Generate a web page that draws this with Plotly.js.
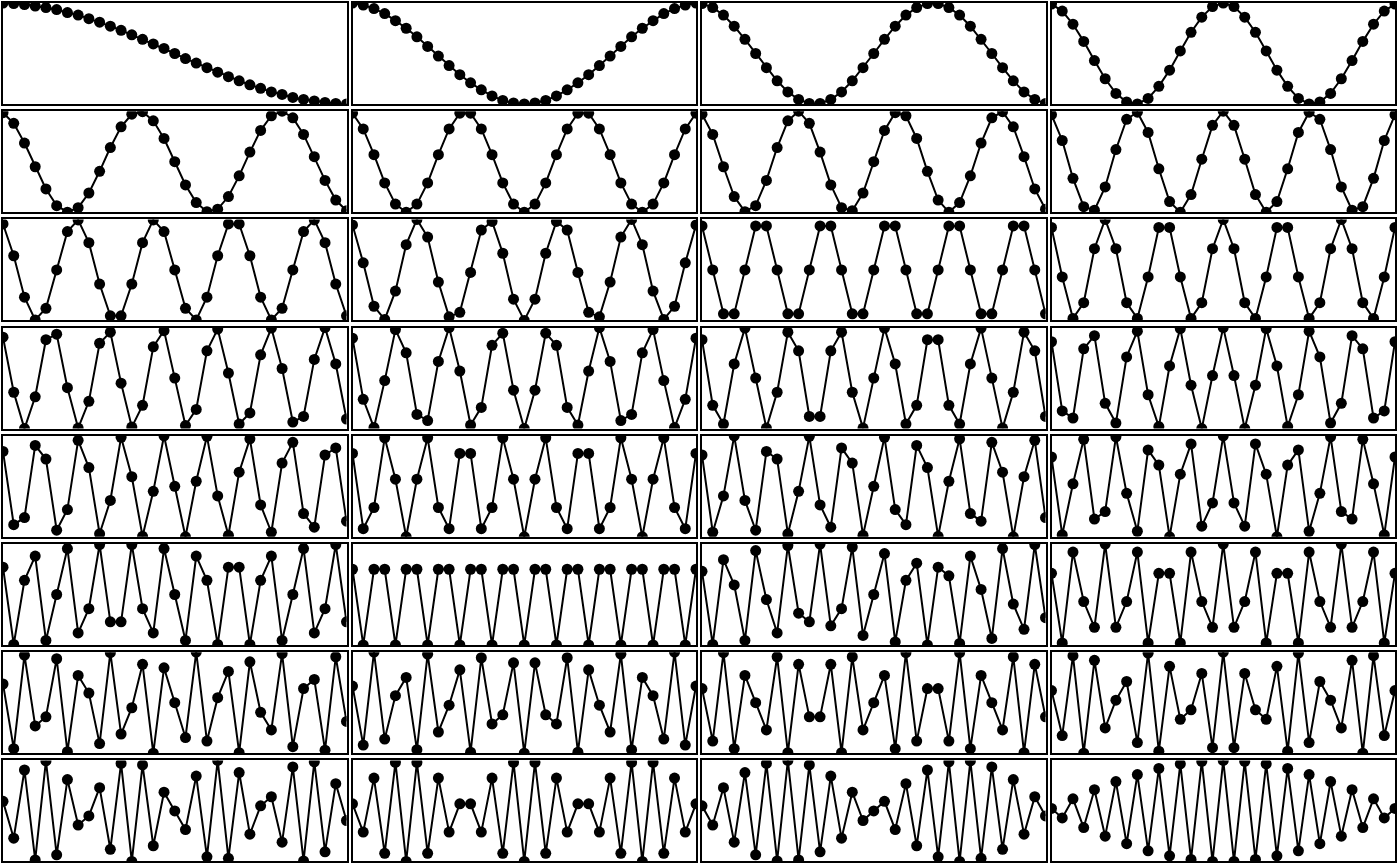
<!DOCTYPE html>
<html>
<head>
<meta charset="utf-8">
<script src="https://cdn.plot.ly/plotly-3.0.1.min.js"></script>
<style>html,body{margin:0;padding:0;background:#fff;}#chart{width:1400px;height:866px;}</style>
</head>
<body>
<div id="chart"></div>
<script>
const samples = [0,1,2,3,4,5,6,7,8,9,10,11,12,13,14,15,16,17,18,19,20,21,22,23,24,25,26,27,28,29,30,31,32];

const k01 = [1.00,0.99,0.97,0.94,0.91,0.87,0.81,0.76,0.69,0.62,0.54,0.46,0.37,0.28,0.19,0.10,0.00,-0.10,-0.19,-0.28,-0.37,-0.46,-0.54,-0.62,-0.69,-0.76,-0.81,-0.87,-0.91,-0.94,-0.97,-0.99,-1.00];
const k02 = [1.00,0.96,0.89,0.79,0.65,0.50,0.33,0.14,-0.05,-0.24,-0.42,-0.58,-0.72,-0.84,-0.93,-0.98,-1.00,-0.98,-0.93,-0.84,-0.72,-0.58,-0.42,-0.24,-0.05,0.14,0.33,0.50,0.65,0.79,0.89,0.96,1.00];
const k03 = [0.99,0.91,0.76,0.54,0.28,0.00,-0.28,-0.54,-0.76,-0.91,-0.99,-0.99,-0.91,-0.76,-0.54,-0.28,0.00,0.28,0.54,0.76,0.91,0.99,0.99,0.91,0.76,0.54,0.28,0.00,-0.28,-0.54,-0.76,-0.91,-0.99];
const k04 = [0.98,0.84,0.58,0.24,-0.14,-0.50,-0.79,-0.96,-1.00,-0.89,-0.65,-0.33,0.05,0.42,0.72,0.93,1.00,0.93,0.72,0.42,0.05,-0.33,-0.65,-0.89,-1.00,-0.96,-0.79,-0.50,-0.14,0.24,0.58,0.84,0.98];
const k05 = [0.97,0.76,0.37,-0.10,-0.54,-0.87,-1.00,-0.91,-0.62,-0.19,0.28,0.69,0.94,0.99,0.81,0.46,0.00,-0.46,-0.81,-0.99,-0.94,-0.69,-0.28,0.19,0.62,0.91,1.00,0.87,0.54,0.10,-0.37,-0.76,-0.97];
const k06 = [0.96,0.65,0.14,-0.42,-0.84,-1.00,-0.84,-0.42,0.14,0.65,0.96,0.96,0.65,0.14,-0.42,-0.84,-1.00,-0.84,-0.42,0.14,0.65,0.96,0.96,0.65,0.14,-0.42,-0.84,-1.00,-0.84,-0.42,0.14,0.65,0.96];
const k07 = [0.94,0.54,-0.10,-0.69,-0.99,-0.87,-0.37,0.28,0.81,1.00,0.76,0.19,-0.46,-0.91,-0.97,-0.62,0.00,0.62,0.97,0.91,0.46,-0.19,-0.76,-1.00,-0.81,-0.28,0.37,0.87,0.99,0.69,0.10,-0.54,-0.94];
const k08 = [0.93,0.42,-0.33,-0.89,-0.96,-0.50,0.24,0.84,0.98,0.58,-0.14,-0.79,-1.00,-0.65,0.05,0.72,1.00,0.72,0.05,-0.65,-1.00,-0.79,-0.14,0.58,0.98,0.84,0.24,-0.50,-0.96,-0.89,-0.33,0.42,0.93];
const k09 = [0.91,0.28,-0.54,-0.99,-0.76,0.00,0.76,0.99,0.54,-0.28,-0.91,-0.91,-0.28,0.54,0.99,0.76,0.00,-0.76,-0.99,-0.54,0.28,0.91,0.91,0.28,-0.54,-0.99,-0.76,0.00,0.76,0.99,0.54,-0.28,-0.91];
const k10 = [0.89,0.14,-0.72,-0.98,-0.42,0.50,1.00,0.65,-0.24,-0.93,-0.84,-0.05,0.79,0.96,0.33,-0.58,-1.00,-0.58,0.33,0.96,0.79,-0.05,-0.84,-0.93,-0.24,0.65,1.00,0.50,-0.42,-0.98,-0.72,0.14,0.89];
const k11 = [0.87,0.00,-0.87,-0.87,0.00,0.87,0.87,0.00,-0.87,-0.87,0.00,0.87,0.87,0.00,-0.87,-0.87,0.00,0.87,0.87,0.00,-0.87,-0.87,0.00,0.87,0.87,0.00,-0.87,-0.87,0.00,0.87,0.87,0.00,-0.87];
const k12 = [0.84,-0.14,-0.96,-0.65,0.42,1.00,0.42,-0.65,-0.96,-0.14,0.84,0.84,-0.14,-0.96,-0.65,0.42,1.00,0.42,-0.65,-0.96,-0.14,0.84,0.84,-0.14,-0.96,-0.65,0.42,1.00,0.42,-0.65,-0.96,-0.14,0.84];
const k13 = [0.81,-0.28,-1.00,-0.37,0.76,0.87,-0.19,-0.99,-0.46,0.69,0.91,-0.10,-0.97,-0.54,0.62,0.94,0.00,-0.94,-0.62,0.54,0.97,0.10,-0.91,-0.69,0.46,0.99,0.19,-0.87,-0.76,0.37,1.00,0.28,-0.81];
const k14 = [0.79,-0.42,-0.98,-0.05,0.96,0.50,-0.72,-0.84,0.33,1.00,0.14,-0.93,-0.58,0.65,0.89,-0.24,-1.00,-0.24,0.89,0.65,-0.58,-0.93,0.14,1.00,0.33,-0.84,-0.72,0.50,0.96,-0.05,-0.98,-0.42,0.79];
const k15 = [0.76,-0.54,-0.91,0.28,0.99,0.00,-0.99,-0.28,0.91,0.54,-0.76,-0.76,0.54,0.91,-0.28,-0.99,0.00,0.99,0.28,-0.91,-0.54,0.76,0.76,-0.54,-0.91,0.28,0.99,0.00,-0.99,-0.28,0.91,0.54,-0.76];
const k16 = [0.72,-0.65,-0.79,0.58,0.84,-0.50,-0.89,0.42,0.93,-0.33,-0.96,0.24,0.98,-0.14,-1.00,0.05,1.00,0.05,-1.00,-0.14,0.98,0.24,-0.96,-0.33,0.93,0.42,-0.89,-0.50,0.84,0.58,-0.79,-0.65,0.72];
const k17 = [0.69,-0.76,-0.62,0.81,0.54,-0.87,-0.46,0.91,0.37,-0.94,-0.28,0.97,0.19,-0.99,-0.10,1.00,0.00,-1.00,0.10,0.99,-0.19,-0.97,0.28,0.94,-0.37,-0.91,0.46,0.87,-0.54,-0.81,0.62,0.76,-0.69];
const k18 = [0.65,-0.84,-0.42,0.96,0.14,-1.00,0.14,0.96,-0.42,-0.84,0.65,0.65,-0.84,-0.42,0.96,0.14,-1.00,0.14,0.96,-0.42,-0.84,0.65,0.65,-0.84,-0.42,0.96,0.14,-1.00,0.14,0.96,-0.42,-0.84,0.65];
const k19 = [0.62,-0.91,-0.19,1.00,-0.28,-0.87,0.69,0.54,-0.94,-0.10,0.99,-0.37,-0.81,0.76,0.46,-0.97,0.00,0.97,-0.46,-0.76,0.81,0.37,-0.99,0.10,0.94,-0.54,-0.69,0.87,0.28,-1.00,0.19,0.91,-0.62];
const k20 = [0.58,-0.96,0.05,0.93,-0.65,-0.50,0.98,-0.14,-0.89,0.72,0.42,-1.00,0.24,0.84,-0.79,-0.33,1.00,-0.33,-0.79,0.84,0.24,-1.00,0.42,0.72,-0.89,-0.14,0.98,-0.50,-0.65,0.93,0.05,-0.96,0.58];
const k21 = [0.54,-0.99,0.28,0.76,-0.91,0.00,0.91,-0.76,-0.28,0.99,-0.54,-0.54,0.99,-0.28,-0.76,0.91,0.00,-0.91,0.76,0.28,-0.99,0.54,0.54,-0.99,0.28,0.76,-0.91,0.00,0.91,-0.76,-0.28,0.99,-0.54];
const k22 = [0.50,-1.00,0.50,0.50,-1.00,0.50,0.50,-1.00,0.50,0.50,-1.00,0.50,0.50,-1.00,0.50,0.50,-1.00,0.50,0.50,-1.00,0.50,0.50,-1.00,0.50,0.50,-1.00,0.50,0.50,-1.00,0.50,0.50,-1.00,0.50];
const k23 = [0.46,-0.99,0.69,0.19,-0.91,0.87,-0.10,-0.76,0.97,-0.37,-0.54,1.00,-0.62,-0.28,0.94,-0.81,0.00,0.81,-0.94,0.28,0.62,-1.00,0.54,0.37,-0.97,0.76,0.10,-0.87,0.91,-0.19,-0.69,0.99,-0.46];
const k24 = [0.42,-0.96,0.84,-0.14,-0.65,1.00,-0.65,-0.14,0.84,-0.96,0.42,0.42,-0.96,0.84,-0.14,-0.65,1.00,-0.65,-0.14,0.84,-0.96,0.42,0.42,-0.96,0.84,-0.14,-0.65,1.00,-0.65,-0.14,0.84,-0.96,0.42];
const k25 = [0.37,-0.91,0.94,-0.46,-0.28,0.87,-0.97,0.54,0.19,-0.81,0.99,-0.62,-0.10,0.76,-1.00,0.69,0.00,-0.69,1.00,-0.76,0.10,0.62,-0.99,0.81,-0.19,-0.54,0.97,-0.87,0.28,0.46,-0.94,0.91,-0.37];
const k26 = [0.33,-0.84,1.00,-0.72,0.14,0.50,-0.93,0.96,-0.58,-0.05,0.65,-0.98,0.89,-0.42,-0.24,0.79,-1.00,0.79,-0.24,-0.42,0.89,-0.98,0.65,-0.05,-0.58,0.96,-0.93,0.50,0.14,-0.72,1.00,-0.84,0.33];
const k27 = [0.28,-0.76,0.99,-0.91,0.54,0.00,-0.54,0.91,-0.99,0.76,-0.28,-0.28,0.76,-0.99,0.91,-0.54,0.00,0.54,-0.91,0.99,-0.76,0.28,0.28,-0.76,0.99,-0.91,0.54,0.00,-0.54,0.91,-0.99,0.76,-0.28];
const k28 = [0.24,-0.65,0.93,-1.00,0.84,-0.50,0.05,0.42,-0.79,0.98,-0.96,0.72,-0.33,-0.14,0.58,-0.89,1.00,-0.89,0.58,-0.14,-0.33,0.72,-0.96,0.98,-0.79,0.42,0.05,-0.50,0.84,-1.00,0.93,-0.65,0.24];
const k29 = [0.19,-0.54,0.81,-0.97,0.99,-0.87,0.62,-0.28,-0.10,0.46,-0.76,0.94,-1.00,0.91,-0.69,0.37,0.00,-0.37,0.69,-0.91,1.00,-0.94,0.76,-0.46,0.10,0.28,-0.62,0.87,-0.99,0.97,-0.81,0.54,-0.19];
const k30 = [0.14,-0.42,0.65,-0.84,0.96,-1.00,0.96,-0.84,0.65,-0.42,0.14,0.14,-0.42,0.65,-0.84,0.96,-1.00,0.96,-0.84,0.65,-0.42,0.14,0.14,-0.42,0.65,-0.84,0.96,-1.00,0.96,-0.84,0.65,-0.42,0.14];
const k31 = [0.10,-0.28,0.46,-0.62,0.76,-0.87,0.94,-0.99,1.00,-0.97,0.91,-0.81,0.69,-0.54,0.37,-0.19,0.00,0.19,-0.37,0.54,-0.69,0.81,-0.91,0.97,-1.00,0.99,-0.94,0.87,-0.76,0.62,-0.46,0.28,-0.10];
const k32 = [0.05,-0.14,0.24,-0.33,0.42,-0.50,0.58,-0.65,0.72,-0.79,0.84,-0.89,0.93,-0.96,0.98,-1.00,1.00,-1.00,0.98,-0.96,0.93,-0.89,0.84,-0.79,0.72,-0.65,0.58,-0.50,0.42,-0.33,0.24,-0.14,0.05];

const panels = [k01,k02,k03,k04,k05,k06,k07,k08,k09,k10,k11,k12,k13,k14,k15,k16,
                k17,k18,k19,k20,k21,k22,k23,k24,k25,k26,k27,k28,k29,k30,k31,k32];

const W = 1400, H = 866;
const NCOL = 4;
const traces = [];
const layout = {
  width: W, height: H,
  margin: {l: 0, r: 0, t: 0, b: 0, pad: 0},
  paper_bgcolor: '#ffffff', plot_bgcolor: '#ffffff',
  showlegend: false
};

panels.forEach((ys, i) => {
  const r = Math.floor(i / NCOL), c = i % NCOL;
  const idx = i + 1;
  const xa = 'x' + idx;
  const ya = 'y' + idx;
  traces.push({
    type: 'scatter', mode: 'lines+markers',
    x: samples, y: ys,
    xaxis: xa, yaxis: ya,
    line: {color: '#000000', width: 2},
    marker: {color: '#000000', size: 11},
    hoverinfo: 'skip'
  });
  const left = 3 + c * 349.5, right = left + 343.5;
  const top = 3 + r * 108.2, bottom = top + 101;
  const axCommon = {
    showline: true, mirror: true, linecolor: '#000000', linewidth: 2,
    showgrid: false, zeroline: false, ticks: '', showticklabels: false, fixedrange: true
  };
  layout['xaxis' + idx] = Object.assign({}, axCommon, {
    domain: [left / W, right / W], range: [0, 32], anchor: ya
  });
  layout['yaxis' + idx] = Object.assign({}, axCommon, {
    domain: [1 - bottom / H, 1 - top / H], range: [-1, 1], anchor: xa
  });
});

Plotly.newPlot('chart', traces, layout, {displayModeBar: false, staticPlot: true});
</script>
</body>
</html>
